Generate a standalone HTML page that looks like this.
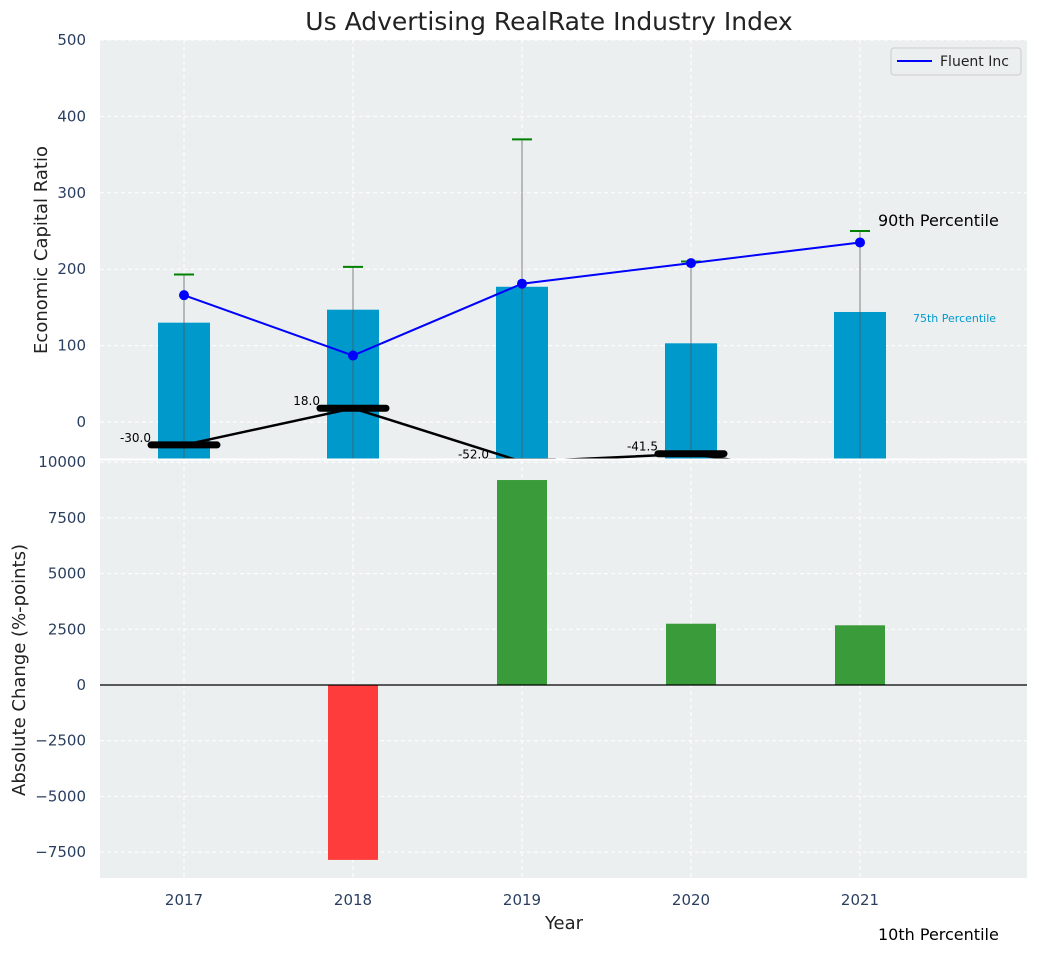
<!DOCTYPE html>
<html><head><meta charset="utf-8"><style>
body{margin:0;background:#fff;font-family:"Liberation Sans","DejaVu Sans",sans-serif}
svg text{font-family:"DejaVu Sans","Liberation Sans",sans-serif}
</style></head><body>
<svg id="c" width="1039" height="954" xmlns="http://www.w3.org/2000/svg">
<defs><clipPath id="tc"><rect x="100" y="40" width="927" height="419"/></clipPath>
<clipPath id="bc"><rect x="100" y="459" width="927" height="419"/></clipPath></defs>
<rect x="100" y="40" width="927" height="419" fill="#ebeff0"/>
<rect x="100" y="460" width="927" height="418" fill="#ebeff0"/>
<g id="grid"></g>
<g id="top" clip-path="url(#tc)"></g>
<g id="bot" clip-path="url(#bc)"></g>
<g id="axes"></g>
<text x="549" y="30" font-size="25" text-anchor="middle" fill="#222">Us Advertising RealRate Industry Index</text>
<text x="564" y="929" font-size="18" text-anchor="middle" fill="#222">Year</text>
<text transform="translate(47,250) rotate(-90)" font-size="18" text-anchor="middle" fill="#222">Economic Capital Ratio</text>
<text transform="translate(25,670) rotate(-90)" font-size="18" text-anchor="middle" fill="#222">Absolute Change (%-points)</text>
<text x="878" y="226" font-size="16" fill="#000">90th Percentile</text>
<text x="913" y="322" font-size="11" fill="#0099cc">75th Percentile</text>
<text x="878" y="940" font-size="16" fill="#000">10th Percentile</text>
<g>
<rect x="891" y="48" width="130" height="27" rx="3" fill="#ebeff0" stroke="#ccc"/>
<line x1="897" y1="61" x2="932" y2="61" stroke="#0000ff" stroke-width="2"/>
<text x="940" y="66" font-size="14" fill="#222">Fluent Inc</text>
</g>
</svg>
<script>
const years=[2017,2018,2019,2020,2021];
const barVals=[130,147,177,103,144];
const fluent=[166,87,181,208,235];
const capVals=[193,203,370,210,250];
const lowVals=[-30,18,-52,-41.5,-75];
const lowLabels=["-30.0","18.0","-52.0","-41.5",""];
const changes=[0,-7850,9200,2750,2680];
const topTicks=[0,100,200,300,400,500];
const botTicks=[-7500,-5000,-2500,0,2500,5000,7500,10000];
const NS="http://www.w3.org/2000/svg";
const X=y=>184+(y-2017)*169;
const YT=v=>422-v*0.764;
const YB=v=>685-v*0.02228;
function mk(p,t,a){const e=document.createElementNS(NS,t);for(const k in a)e.setAttribute(k,a[k]);p.appendChild(e);return e;}
const g=document.getElementById('grid'),tp=document.getElementById('top'),bt=document.getElementById('bot'),ax=document.getElementById('axes');
topTicks.forEach(v=>{mk(g,'line',{x1:100,x2:1027,y1:YT(v),y2:YT(v),stroke:'#fff','stroke-dasharray':'4,3'});
const t=mk(ax,'text',{x:86,y:YT(v)+5,'font-size':15,'text-anchor':'end',fill:'#2a3f5f'});t.textContent=v;

});
botTicks.forEach(v=>{mk(g,'line',{x1:100,x2:1027,y1:YB(v),y2:YB(v),stroke:'#fff','stroke-dasharray':'4,3'});
const t=mk(ax,'text',{x:86,y:YB(v)+5,'font-size':15,'text-anchor':'end',fill:'#2a3f5f'});t.textContent=v<0?'\u2212'+(-v):v;

});
years.forEach(y=>{mk(g,'line',{x1:X(y),x2:X(y),y1:40,y2:878,stroke:'#fff','stroke-dasharray':'4,3'});
const t=mk(ax,'text',{x:X(y),y:905,'font-size':15,'text-anchor':'middle',fill:'#2a3f5f'});t.textContent=y;

});
mk(ax,'line',{x1:100,x2:1027,y1:459.5,y2:459.5,stroke:'#fff','stroke-width':2});
years.forEach((y,i)=>{const r=mk(tp,'rect',{x:X(y)-26,y:YT(barVals[i]),width:52,height:470-YT(barVals[i]),fill:'#0099cc'});


const l=mk(tp,'line',{x1:X(y),x2:X(y),y1:YT(capVals[i]),y2:470,stroke:'#555','stroke-opacity':0.6,'stroke-width':1.2});


mk(tp,'line',{x1:X(y)-10,x2:X(y)+10,y1:YT(capVals[i]),y2:YT(capVals[i]),stroke:'#008000','stroke-width':2});});
let pts=years.map((y,i)=>X(y)+','+YT(lowVals[i])).join(' ');
const lp=mk(tp,'polyline',{points:pts,fill:'none',stroke:'#000','stroke-width':2.5});


years.forEach((y,i)=>{mk(tp,'line',{x1:X(y)-33,x2:X(y)+33,y1:YT(lowVals[i]),y2:YT(lowVals[i]),stroke:'#000','stroke-width':7,'stroke-linecap':'round'});
const t=mk(tp,'text',{x:X(y)-33,y:YT(lowVals[i])-3,'font-size':12,'text-anchor':'end',fill:'#000'});t.textContent=lowLabels[i];

});
const fp=mk(tp,'polyline',{points:years.map((y,i)=>X(y)+','+YT(fluent[i])).join(' '),fill:'none',stroke:'#0000ff','stroke-width':2});


years.forEach((y,i)=>{const c=mk(tp,'circle',{cx:X(y),cy:YT(fluent[i]),r:5,fill:'#0000ff'});

});
years.forEach((y,i)=>{const v=changes[i];if(!v)return;const y0=YB(Math.max(v,0)),h=Math.abs(YB(v)-YB(0));
const r=mk(bt,'rect',{x:X(y)-25,y:y0,width:50,height:h,fill:v<0?'#ff3c3c':'#3a9b3a'});

});
mk(bt,'line',{x1:100,x2:1027,y1:YB(0),y2:YB(0),stroke:'#000','stroke-width':1.2});
</script>
</body></html>
